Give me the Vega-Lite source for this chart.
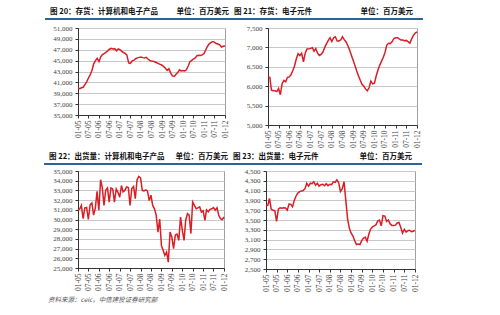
{
  "$schema": "https://vega.github.io/schema/vega-lite/v6.json",
  "padding": {"left": 43, "top": 8, "right": 0, "bottom": 0},
  "background": "white",
  "config": {
    "view": {"stroke": "#a0a0a0"},
    "font": "Noto Sans CJK SC",
    "axis": {"labelFont": "Liberation Serif", "labelColor": "#444", "tickColor": "#333", "domainColor": "#333", "tickSize": 3},
    "axisX": {"labelFontSize": 7.5, "labelAngle": -90, "labelPadding": 2, "grid": false, "labelFlush": false, "labelOverlap": false,
              "labelExpr": "(utcmonth(datum.value) == 0 ? '01-' : '07-') + (utcyear(datum.value) < 2010 ? '0' : '') + (utcyear(datum.value) - 2000)"},
    "axisY": {"labelFontSize": 7, "labelPadding": 3, "gridColor": "#c8c8c8", "gridWidth": 1,
              "labelExpr": "floor(datum.value / 1000) + ',' + (datum.value % 1000 == 0 ? '000' : '' + (datum.value % 1000))"},
    "line": {"color": "#d91f26", "strokeWidth": 1.5},
    "text": {"font": "Noto Sans CJK SC", "fontSize": 7.5, "fontWeight": "bold", "color": "#111"}
  },
  "title": {"text": "资料来源：ceic，中信建投证券研究部", "orient": "bottom", "anchor": "start", "fontSize": 6.5, "font": "Noto Sans CJK SC", "fontWeight": "normal", "fontStyle": "italic", "color": "#555", "offset": 5, "dx": 5},
  "datasets": {
    "tl": [
      {"date":"2005-01","v":39900},{"date":"2005-02","v":39850},{"date":"2005-03","v":40000},{"date":"2005-04","v":40100},{"date":"2005-05","v":40600},{"date":"2005-06","v":41100},{"date":"2005-07","v":41800},{"date":"2005-08","v":42400},{"date":"2005-09","v":43200},{"date":"2005-10","v":44400},{"date":"2005-11","v":45000},{"date":"2005-12","v":45400},
      {"date":"2006-01","v":44800},{"date":"2006-02","v":45700},{"date":"2006-03","v":46100},{"date":"2006-04","v":46300},{"date":"2006-05","v":46500},{"date":"2006-06","v":46800},{"date":"2006-07","v":47100},{"date":"2006-08","v":47250},{"date":"2006-09","v":47150},{"date":"2006-10","v":47200},{"date":"2006-11","v":46800},{"date":"2006-12","v":47150},
      {"date":"2007-01","v":47000},{"date":"2007-02","v":46700},{"date":"2007-03","v":46500},{"date":"2007-04","v":46350},{"date":"2007-05","v":46000},{"date":"2007-06","v":44600},{"date":"2007-07","v":44500},{"date":"2007-08","v":44950},{"date":"2007-09","v":45100},{"date":"2007-10","v":45350},{"date":"2007-11","v":45500},{"date":"2007-12","v":45600},
      {"date":"2008-01","v":45650},{"date":"2008-02","v":45550},{"date":"2008-03","v":45500},{"date":"2008-04","v":45600},{"date":"2008-05","v":45300},{"date":"2008-06","v":45050},{"date":"2008-07","v":44950},{"date":"2008-08","v":44900},{"date":"2008-09","v":44750},{"date":"2008-10","v":44600},{"date":"2008-11","v":44450},{"date":"2008-12","v":44300},
      {"date":"2009-01","v":44150},{"date":"2009-02","v":43900},{"date":"2009-03","v":43600},{"date":"2009-04","v":43200},{"date":"2009-05","v":43500},{"date":"2009-06","v":42700},{"date":"2009-07","v":42200},{"date":"2009-08","v":42100},{"date":"2009-09","v":42500},{"date":"2009-10","v":42800},{"date":"2009-11","v":43300},{"date":"2009-12","v":43100},
      {"date":"2010-01","v":43200},{"date":"2010-02","v":43100},{"date":"2010-03","v":43300},{"date":"2010-04","v":44000},{"date":"2010-05","v":44800},{"date":"2010-06","v":45050},{"date":"2010-07","v":45300},{"date":"2010-08","v":45500},{"date":"2010-09","v":45900},{"date":"2010-10","v":46000},{"date":"2010-11","v":45950},{"date":"2010-12","v":46050},
      {"date":"2011-01","v":46300},{"date":"2011-02","v":47000},{"date":"2011-03","v":47600},{"date":"2011-04","v":48100},{"date":"2011-05","v":48300},{"date":"2011-06","v":48500},{"date":"2011-07","v":48400},{"date":"2011-08","v":48150},{"date":"2011-09","v":48050},{"date":"2011-10","v":47900},{"date":"2011-11","v":47500},{"date":"2011-12","v":47650},
      {"date":"2012-01","v":47700}
    ],
    "tr": [
      {"date":"2005-01","v":6240},{"date":"2005-02","v":6230},{"date":"2005-03","v":5900},{"date":"2005-04","v":5885},{"date":"2005-05","v":5880},{"date":"2005-06","v":5860},{"date":"2005-07","v":5940},{"date":"2005-08","v":5780},{"date":"2005-09","v":6070},{"date":"2005-10","v":6150},{"date":"2005-11","v":6115},{"date":"2005-12","v":6230},
      {"date":"2006-01","v":6240},{"date":"2006-02","v":6300},{"date":"2006-03","v":6400},{"date":"2006-04","v":6520},{"date":"2006-05","v":6700},{"date":"2006-06","v":6840},{"date":"2006-07","v":6790},{"date":"2006-08","v":6850},{"date":"2006-09","v":6630},{"date":"2006-10","v":6850},{"date":"2006-11","v":6960},{"date":"2006-12","v":6965},
      {"date":"2007-01","v":6975},{"date":"2007-02","v":6990},{"date":"2007-03","v":6900},{"date":"2007-04","v":6970},{"date":"2007-05","v":6850},{"date":"2007-06","v":6790},{"date":"2007-07","v":6820},{"date":"2007-08","v":6880},{"date":"2007-09","v":7000},{"date":"2007-10","v":7090},{"date":"2007-11","v":7180},{"date":"2007-12","v":7250},
      {"date":"2008-01","v":7150},{"date":"2008-02","v":7250},{"date":"2008-03","v":7275},{"date":"2008-04","v":7165},{"date":"2008-05","v":7165},{"date":"2008-06","v":7190},{"date":"2008-07","v":7275},{"date":"2008-08","v":7200},{"date":"2008-09","v":7140},{"date":"2008-10","v":7050},{"date":"2008-11","v":6930},{"date":"2008-12","v":6800},
      {"date":"2009-01","v":6670},{"date":"2009-02","v":6530},{"date":"2009-03","v":6400},{"date":"2009-04","v":6270},{"date":"2009-05","v":6160},{"date":"2009-06","v":6050},{"date":"2009-07","v":6005},{"date":"2009-08","v":5930},{"date":"2009-09","v":5880},{"date":"2009-10","v":5960},{"date":"2009-11","v":6130},{"date":"2009-12","v":6060},
      {"date":"2010-01","v":6080},{"date":"2010-02","v":6270},{"date":"2010-03","v":6410},{"date":"2010-04","v":6540},{"date":"2010-05","v":6640},{"date":"2010-06","v":6740},{"date":"2010-07","v":6870},{"date":"2010-08","v":7060},{"date":"2010-09","v":7105},{"date":"2010-10","v":7100},{"date":"2010-11","v":7150},{"date":"2010-12","v":7230},
      {"date":"2011-01","v":7250},{"date":"2011-02","v":7250},{"date":"2011-03","v":7220},{"date":"2011-04","v":7190},{"date":"2011-05","v":7190},{"date":"2011-06","v":7170},{"date":"2011-07","v":7180},{"date":"2011-08","v":7150},{"date":"2011-09","v":7110},{"date":"2011-10","v":7220},{"date":"2011-11","v":7310},{"date":"2011-12","v":7370},
      {"date":"2012-01","v":7400}
    ],
    "bl": [
      {"date":"2005-01","v":30950},{"date":"2005-02","v":31100},{"date":"2005-03","v":31450},{"date":"2005-04","v":30100},{"date":"2005-05","v":31200},{"date":"2005-06","v":31250},{"date":"2005-07","v":30000},{"date":"2005-08","v":31500},{"date":"2005-09","v":31700},{"date":"2005-10","v":30450},{"date":"2005-11","v":31200},{"date":"2005-12","v":32900},
      {"date":"2006-01","v":30950},{"date":"2006-02","v":34100},{"date":"2006-03","v":33350},{"date":"2006-04","v":31450},{"date":"2006-05","v":33000},{"date":"2006-06","v":33250},{"date":"2006-07","v":31800},{"date":"2006-08","v":33250},{"date":"2006-09","v":33150},{"date":"2006-10","v":31800},{"date":"2006-11","v":33150},{"date":"2006-12","v":32800},
      {"date":"2007-01","v":32300},{"date":"2007-02","v":33500},{"date":"2007-03","v":32850},{"date":"2007-04","v":33000},{"date":"2007-05","v":33350},{"date":"2007-06","v":33300},{"date":"2007-07","v":31450},{"date":"2007-08","v":33200},{"date":"2007-09","v":33400},{"date":"2007-10","v":32150},{"date":"2007-11","v":34100},{"date":"2007-12","v":34450},
      {"date":"2008-01","v":34300},{"date":"2008-02","v":33000},{"date":"2008-03","v":32950},{"date":"2008-04","v":33050},{"date":"2008-05","v":32950},{"date":"2008-06","v":31950},{"date":"2008-07","v":32500},{"date":"2008-08","v":31450},{"date":"2008-09","v":31100},{"date":"2008-10","v":30450},{"date":"2008-11","v":28700},{"date":"2008-12","v":30050},
      {"date":"2009-01","v":27300},{"date":"2009-02","v":26800},{"date":"2009-03","v":26300},{"date":"2009-04","v":26650},{"date":"2009-05","v":25600},{"date":"2009-06","v":28700},{"date":"2009-07","v":28200},{"date":"2009-08","v":27000},{"date":"2009-09","v":28400},{"date":"2009-10","v":28500},{"date":"2009-11","v":27850},{"date":"2009-12","v":30250},
      {"date":"2010-01","v":28900},{"date":"2010-02","v":27850},{"date":"2010-03","v":29900},{"date":"2010-04","v":30600},{"date":"2010-05","v":30450},{"date":"2010-06","v":28550},{"date":"2010-07","v":31800},{"date":"2010-08","v":31450},{"date":"2010-09","v":31100},{"date":"2010-10","v":31200},{"date":"2010-11","v":31300},{"date":"2010-12","v":30770},
      {"date":"2011-01","v":30900},{"date":"2011-02","v":29900},{"date":"2011-03","v":31000},{"date":"2011-04","v":30800},{"date":"2011-05","v":31050},{"date":"2011-06","v":31100},{"date":"2011-07","v":31220},{"date":"2011-08","v":30950},{"date":"2011-09","v":31200},{"date":"2011-10","v":30430},{"date":"2011-11","v":30090},{"date":"2011-12","v":30000},
      {"date":"2012-01","v":30260}
    ],
    "br": [
      {"date":"2005-01","v":3790},{"date":"2005-02","v":3800},{"date":"2005-03","v":3940},{"date":"2005-04","v":3720},{"date":"2005-05","v":3700},{"date":"2005-06","v":3690},{"date":"2005-07","v":3470},{"date":"2005-08","v":3720},{"date":"2005-09","v":3750},{"date":"2005-10","v":3740},{"date":"2005-11","v":3750},{"date":"2005-12","v":3745},
      {"date":"2006-01","v":3700},{"date":"2006-02","v":3830},{"date":"2006-03","v":3820},{"date":"2006-04","v":3770},{"date":"2006-05","v":3900},{"date":"2006-06","v":3990},{"date":"2006-07","v":4050},{"date":"2006-08","v":4080},{"date":"2006-09","v":4090},{"date":"2006-10","v":4100},{"date":"2006-11","v":4140},{"date":"2006-12","v":4250},
      {"date":"2007-01","v":4190},{"date":"2007-02","v":4250},{"date":"2007-03","v":4240},{"date":"2007-04","v":4280},{"date":"2007-05","v":4210},{"date":"2007-06","v":4250},{"date":"2007-07","v":4190},{"date":"2007-08","v":4220},{"date":"2007-09","v":4230},{"date":"2007-10","v":4200},{"date":"2007-11","v":4240},{"date":"2007-12","v":4200},
      {"date":"2008-01","v":4230},{"date":"2008-02","v":4220},{"date":"2008-03","v":4280},{"date":"2008-04","v":4270},{"date":"2008-05","v":4320},{"date":"2008-06","v":4260},{"date":"2008-07","v":4080},{"date":"2008-08","v":4140},{"date":"2008-09","v":4280},{"date":"2008-10","v":3900},{"date":"2008-11","v":3520},{"date":"2008-12","v":3330},
      {"date":"2009-01","v":3230},{"date":"2009-02","v":3170},{"date":"2009-03","v":3080},{"date":"2009-04","v":3000},{"date":"2009-05","v":3010},{"date":"2009-06","v":3000},{"date":"2009-07","v":3080},{"date":"2009-08","v":3130},{"date":"2009-09","v":3146},{"date":"2009-10","v":3066},{"date":"2009-11","v":3214},{"date":"2009-12","v":3315},
      {"date":"2010-01","v":3360},{"date":"2010-02","v":3380},{"date":"2010-03","v":3400},{"date":"2010-04","v":3480},{"date":"2010-05","v":3500},{"date":"2010-06","v":3380},{"date":"2010-07","v":3590},{"date":"2010-08","v":3580},{"date":"2010-09","v":3470},{"date":"2010-10","v":3500},{"date":"2010-11","v":3420},{"date":"2010-12","v":3390},
      {"date":"2011-01","v":3390},{"date":"2011-02","v":3395},{"date":"2011-03","v":3440},{"date":"2011-04","v":3450},{"date":"2011-05","v":3350},{"date":"2011-06","v":3230},{"date":"2011-07","v":3310},{"date":"2011-08","v":3250},{"date":"2011-09","v":3280},{"date":"2011-10","v":3290},{"date":"2011-11","v":3260},{"date":"2011-12","v":3270},
      {"date":"2012-01","v":3290}
    ]
  },
  "spacing": 5,
  "vconcat": [
    {
      "spacing": 3,
      "vconcat": [
        {
          "spacing": -7,
          "hconcat": [
            {
              "width": 157, "height": 11, "view": {"stroke": null},
              "data": {"values": [{"l": "图 20：存货：计算机和电子产品", "r": "单位：百万美元"}]},
              "encoding": {"y": {"datum": 1, "type": "quantitative", "scale": {"domain": [0, 1]}, "axis": null}},
              "layer": [
                {"mark": {"type": "rule", "color": "#2f6496", "strokeWidth": 2},
                 "encoding": {"x": {"datum": 0, "type": "quantitative", "scale": {"domain": [0, 1], "range": [-33, 157]}, "axis": null}, "x2": {"datum": 1}, "y": {"datum": 0, "type": "quantitative", "axis": null}}},
                {"mark": {"type": "text", "align": "left", "baseline": "top", "dx": 5},
                 "encoding": {"x": {"datum": 0, "type": "quantitative", "axis": null}, "text": {"field": "l"}}},
                {"mark": {"type": "text", "align": "right", "baseline": "top", "dx": -6},
                 "encoding": {"x": {"datum": 1, "type": "quantitative", "axis": null}, "text": {"field": "r"}}}
              ]
            },
            {
              "width": 163, "height": 11, "view": {"stroke": null},
              "data": {"values": [{"l": "图 21：存货：电子元件", "r": "单位：百万美元"}]},
              "encoding": {"y": {"datum": 1, "type": "quantitative", "scale": {"domain": [0, 1]}, "axis": null}},
              "layer": [
                {"mark": {"type": "rule", "color": "#2f6496", "strokeWidth": 2},
                 "encoding": {"x": {"datum": 0, "type": "quantitative", "scale": {"domain": [0, 1], "range": [-30, 163]}, "axis": null}, "x2": {"datum": 1}, "y": {"datum": 0, "type": "quantitative", "axis": null}}},
                {"mark": {"type": "text", "align": "left", "baseline": "top", "dx": 4},
                 "encoding": {"x": {"datum": 0, "type": "quantitative", "axis": null}, "text": {"field": "l"}}},
                {"mark": {"type": "text", "align": "right", "baseline": "top", "dx": -10},
                 "encoding": {"x": {"datum": 1, "type": "quantitative", "axis": null}, "text": {"field": "r"}}}
              ]
            }
          ]
        },
        {
          "spacing": 10,
          "hconcat": [
            {
              "width": 147, "height": 87,
              "data": {"name": "tl"},
              "mark": "line",
              "encoding": {
                "x": {"field": "date", "type": "temporal", "scale": {"type": "utc", "nice": false},
                      "axis": {"title": null, "tickCount": {"interval": "month", "step": 6}}},
                "y": {"field": "v", "type": "quantitative", "scale": {"domain": [35000, 51000], "nice": false, "zero": false},
                      "axis": {"title": null, "values": [35000, 37000, 39000, 41000, 43000, 45000, 47000, 49000, 51000], "minExtent": 30, "maxExtent": 30}}
              }
            },
            {
              "width": 149, "height": 97,
              "data": {"name": "tr"},
              "mark": "line",
              "encoding": {
                "x": {"field": "date", "type": "temporal", "scale": {"type": "utc", "nice": false},
                      "axis": {"title": null, "tickCount": {"interval": "month", "step": 6}}},
                "y": {"field": "v", "type": "quantitative", "scale": {"domain": [5000, 7500], "nice": false, "zero": false},
                      "axis": {"title": null, "values": [5000, 5500, 6000, 6500, 7000, 7500], "minExtent": 28, "maxExtent": 28}}
              }
            }
          ]
        }
      ]
    },
    {
      "spacing": 1,
      "vconcat": [
        {
          "spacing": -7,
          "hconcat": [
            {
              "width": 156, "height": 11, "view": {"stroke": null},
              "data": {"values": [{"l": "图 22：出货量：计算机和电子产品", "r": "单位：百万美元"}]},
              "encoding": {"y": {"datum": 1, "type": "quantitative", "scale": {"domain": [0, 1]}, "axis": null}},
              "layer": [
                {"mark": {"type": "rule", "color": "#2f6496", "strokeWidth": 2},
                 "encoding": {"x": {"datum": 0, "type": "quantitative", "scale": {"domain": [0, 1], "range": [-34, 156]}, "axis": null}, "x2": {"datum": 1}, "y": {"datum": 0, "type": "quantitative", "axis": null}}},
                {"mark": {"type": "text", "align": "left", "baseline": "top", "dx": 5},
                 "encoding": {"x": {"datum": 0, "type": "quantitative", "axis": null}, "text": {"field": "l"}}},
                {"mark": {"type": "text", "align": "right", "baseline": "top", "dx": -6},
                 "encoding": {"x": {"datum": 1, "type": "quantitative", "axis": null}, "text": {"field": "r"}}}
              ]
            },
            {
              "width": 164, "height": 11, "view": {"stroke": null},
              "data": {"values": [{"l": "图 23：出货量：电子元件", "r": "单位：百万美元"}]},
              "encoding": {"y": {"datum": 1, "type": "quantitative", "scale": {"domain": [0, 1]}, "axis": null}},
              "layer": [
                {"mark": {"type": "rule", "color": "#2f6496", "strokeWidth": 2},
                 "encoding": {"x": {"datum": 0, "type": "quantitative", "scale": {"domain": [0, 1], "range": [-29, 164]}, "axis": null}, "x2": {"datum": 1}, "y": {"datum": 0, "type": "quantitative", "axis": null}}},
                {"mark": {"type": "text", "align": "left", "baseline": "top", "dx": 4},
                 "encoding": {"x": {"datum": 0, "type": "quantitative", "axis": null}, "text": {"field": "l"}}},
                {"mark": {"type": "text", "align": "right", "baseline": "top", "dx": -10},
                 "encoding": {"x": {"datum": 1, "type": "quantitative", "axis": null}, "text": {"field": "r"}}}
              ]
            }
          ]
        },
        {
          "spacing": 10,
          "hconcat": [
            {
              "width": 146, "height": 97,
              "data": {"name": "bl"},
              "mark": "line",
              "encoding": {
                "x": {"field": "date", "type": "temporal", "scale": {"type": "utc", "nice": false},
                      "axis": {"title": null, "tickCount": {"interval": "month", "step": 6}}},
                "y": {"field": "v", "type": "quantitative", "scale": {"domain": [25000, 35000], "nice": false, "zero": false},
                      "axis": {"title": null, "values": [25000, 26000, 27000, 28000, 29000, 30000, 31000, 32000, 33000, 34000, 35000], "minExtent": 31, "maxExtent": 31}}
              }
            },
            {
              "width": 149, "height": 98,
              "data": {"name": "br"},
              "mark": "line",
              "encoding": {
                "x": {"field": "date", "type": "temporal", "scale": {"type": "utc", "nice": false},
                      "axis": {"title": null, "tickCount": {"interval": "month", "step": 6}}},
                "y": {"field": "v", "type": "quantitative", "scale": {"domain": [2500, 4500], "nice": false, "zero": false},
                      "axis": {"title": null, "values": [2500, 2700, 2900, 3100, 3300, 3500, 3700, 3900, 4100, 4300, 4500], "minExtent": 27, "maxExtent": 27}}
              }
            }
          ]
        }
      ]
    }
  ]
}
